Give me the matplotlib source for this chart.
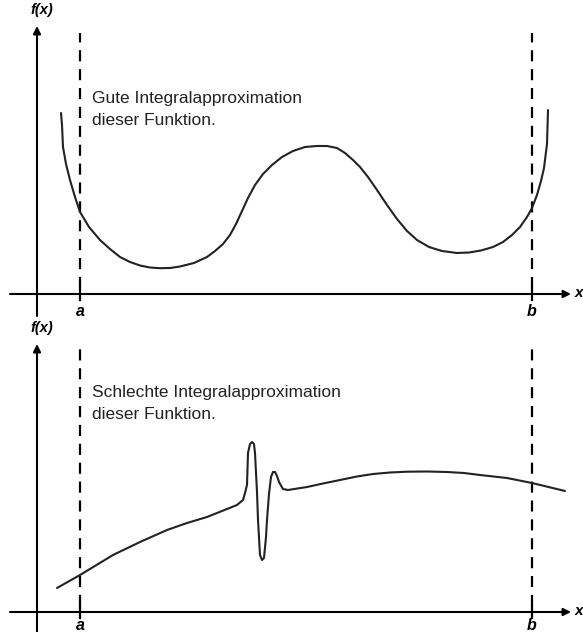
import matplotlib
matplotlib.use('Agg')
import matplotlib.pyplot as plt

# x measured from the f(x) axis, y measured from the x axis
A_POS = 43
B_POS = 495

# upper curve: good approximation
good_x = [24, 25, 26, 29, 33, 38, 43, 52, 63, 73, 83, 93, 103, 113, 123, 133, 143,
          157, 170, 178, 186, 193, 199, 205, 211, 218, 226, 235, 245, 256, 268, 280,
          290, 300, 308, 316, 323, 331, 340, 350, 360, 370, 380, 392, 405, 420, 432,
          444, 456, 466, 475, 483, 490, 495, 500, 504, 507, 510, 511]
good_y = [181, 169, 147, 130, 114, 97, 82, 67, 54, 45, 37, 32, 28.5, 26.5, 25.8, 26,
          27.5, 31, 37, 43, 50, 59, 70, 83, 96, 109, 120, 129, 137, 143, 147, 148,
          148, 146, 141, 134, 127, 117, 104, 89, 75, 63, 54, 47, 43, 41, 41.5,
          43.5, 47, 52, 59, 67, 77, 86, 99, 113, 126, 150, 184]

# lower curve: poor approximation (narrow spike)
bad_x = [20, 43, 76, 103, 130, 150, 170, 185, 200, 206, 208, 210, 211, 213, 215, 217,
         218, 220, 221, 223, 225, 227, 229, 230, 232, 234, 236, 238, 240, 242, 246,
         251, 270, 286, 303, 320, 336, 353, 370, 390, 410, 427, 443, 470, 495, 528]
bad_y = [24, 37, 57, 70, 82, 89, 95, 101, 107, 112, 119, 127, 159, 168, 170, 168,
         159, 120, 92, 57, 52, 54, 75, 92, 118, 135, 140, 140, 136, 130, 123,
         122, 125, 128.5, 132, 135.5, 138, 139.5, 140.3, 140.5, 140, 139, 137, 134,
         129, 121]

TEXTS = ['Gute Integralapproximation\ndieser Funktion.',
         'Schlechte Integralapproximation\ndieser Funktion.']

fig = plt.figure(figsize=(5.83, 6.32), dpi=100)
ax1 = fig.add_axes([0, 0.5, 1, 0.5])
ax2 = fig.add_axes([0, 0, 1, 0.5])

LBL = dict(family='Liberation Sans', fontweight='bold', style='italic')


def draw_panel(ax, xs, ys, text, ybot, ytop, dash_top, txt_y, lbl_y):
    ax.set_xlim(-37, 546)
    ax.set_ylim(ybot, ytop)
    ax.axis('off')
    arrow = dict(arrowstyle='-|>', lw=1.5, color='black', mutation_scale=11,
                 shrinkA=0, shrinkB=0)
    # axes with arrows
    ax.annotate('', xy=(534, 0), xytext=(-27, 0), arrowprops=arrow)
    ax.annotate('', xy=(0, 268), xytext=(0, -22), arrowprops=arrow)
    # a / b markers
    for pos in (A_POS, B_POS):
        ax.plot([pos, pos], [6, dash_top], color='black', lw=1.6,
                dashes=(5, 3.5))
        ax.plot([pos, pos], [-6, 6], color='black', lw=1.6)
    ax.plot(xs, ys, color='#222222', lw=1.5, solid_capstyle='round',
            solid_joinstyle='round')
    ax.text(5, 277, 'f(x)', fontsize=10.5, ha='center', va='bottom', **LBL)
    ax.text(538, 1, 'x', fontsize=11, ha='left', va='center', **LBL)
    ax.text(A_POS, lbl_y, 'a', fontsize=11.5, ha='center', va='center', **LBL)
    ax.text(B_POS, lbl_y, 'b', fontsize=11.5, ha='center', va='center', **LBL)
    ax.text(55, txt_y, text, fontsize=12.5, family='Liberation Sans',
            color='#222222', ha='left', va='top', linespacing=1.55)


draw_panel(ax1, good_x, good_y, TEXTS[0], -22, 294, 261, 203, -17)
draw_panel(ax2, bad_x, bad_y, TEXTS[1], -20, 296, 267, 227, -13)

fig.savefig('out.png', dpi=100)
